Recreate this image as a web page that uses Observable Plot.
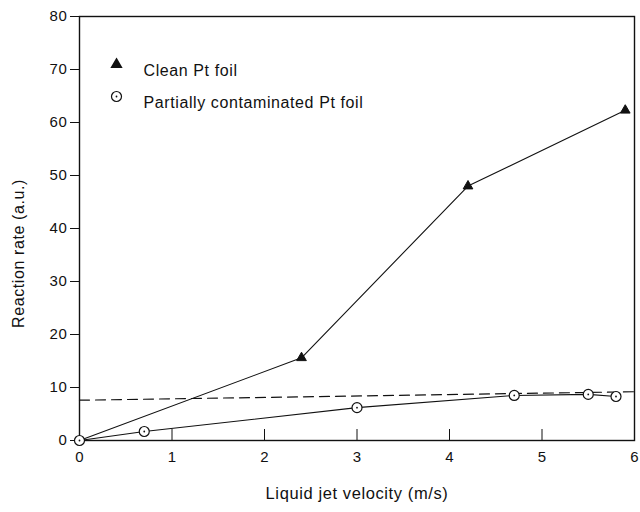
<!DOCTYPE html>
<html>
<head>
<meta charset="utf-8">
<script src="https://cdn.jsdelivr.net/npm/d3@7"></script>
<script src="https://cdn.jsdelivr.net/npm/@observablehq/plot@0.6"></script>
<style>
  html, body { margin: 0; padding: 0; background: #fff; }
  #chart svg { display: block; }
  .wide text { letter-spacing: 0.6px; }
</style>
</head>
<body>
<div id="chart"></div>
<script>
// Clean Pt foil
const cleanX = [0, 2.4, 4.2, 5.9];
const cleanY = [0, 15.6, 48, 62.3];
// Partially contaminated Pt foil
const contX = [0, 0.7, 3, 4.7, 5.5, 5.8];
const contY = [0, 1.7, 6.2, 8.5, 8.7, 8.3];
// Dashed reference line
const dashX = [0, 6];
const dashY = [7.6, 9.2];

const xTicks = [0, 1, 2, 3, 4, 5, 6];
const xInnerTicks = [1, 2, 3, 4, 5];
const yTicks = [0, 10, 20, 30, 40, 50, 60, 70, 80];

const xTitle = "Liquid jet velocity (m/s)";
const yTitle = "Reaction rate (a.u.)";
const legendLabels = ["Clean Pt foil", "Partially contaminated Pt foil"];

const clean = cleanX.map((x, i) => ({x, y: cleanY[i]}));
const cont = contX.map((x, i) => ({x, y: contY[i]}));
const dash = dashX.map((x, i) => ({x, y: dashY[i]}));

const font = "'Liberation Sans', Arial, Helvetica, sans-serif";
const fmt = d3.format("d");

const chart = Plot.plot({
  width: 640,
  height: 512,
  marginLeft: 79,
  marginRight: 6,
  marginTop: 16,
  marginBottom: 72,
  style: {fontFamily: font, fontSize: "15px", color: "#111", background: "#fff"},
  x: {domain: [0, 6]},
  y: {domain: [0, 80]},
  marks: [
    Plot.frame({stroke: "#111", strokeWidth: 1.4}),
    Plot.axisY({ticks: yTicks, tickFormat: fmt, tickSize: 9, tickPadding: 3, label: null, fontSize: 15, stroke: "#111", className: "wide"}),
    Plot.axisX({ticks: xTicks, tickFormat: fmt, tickSize: 0, tickPadding: 11, label: null, fontSize: 15}),
    Plot.axisX({ticks: xInnerTicks, tickSize: 11, dy: -11, text: null, label: null, stroke: "#111"}),
    Plot.text([xTitle], {frameAnchor: "bottom", dy: 58, textAnchor: "middle", fontSize: 16.5, fill: "#111", className: "wide"}),
    Plot.text([yTitle], {frameAnchor: "left", dx: -61, dy: 25, rotate: -90, textAnchor: "middle", fontSize: 16, fill: "#111", className: "wide"}),
    // dashed line
    Plot.line(dash, {x: "x", y: "y", stroke: "#111", strokeWidth: 1.2, strokeDasharray: "10,6"}),
    // series lines
    Plot.line(clean, {x: "x", y: "y", stroke: "#111", strokeWidth: 1.1}),
    Plot.line(cont, {x: "x", y: "y", stroke: "#111", strokeWidth: 1.1}),
    // markers
    Plot.dot(clean.slice(1), {x: "x", y: "y", symbol: "triangle", r: 3.6, fill: "#111", stroke: "#111", strokeWidth: 1}),
    Plot.dot(cont, {x: "x", y: "y", r: 5, fill: "white", stroke: "#111", strokeWidth: 1.2}),
    Plot.dot(cont, {x: "x", y: "y", r: 0.9, fill: "#111"}),
    // legend
    Plot.dot([legendLabels[0]], {frameAnchor: "top-left", dx: 37, dy: 48, symbol: "triangle", r: 3.6, fill: "#111", stroke: "#111"}),
    Plot.text([legendLabels[0]], {frameAnchor: "top-left", dx: 64, dy: 48, textAnchor: "start", fontSize: 16, fill: "#111", className: "wide"}),
    Plot.dot([legendLabels[1]], {frameAnchor: "top-left", dx: 37, dy: 80, r: 5, fill: "white", stroke: "#111", strokeWidth: 1.2}),
    Plot.dot([legendLabels[1]], {frameAnchor: "top-left", dx: 37, dy: 80, r: 0.9, fill: "#111"}),
    Plot.text([legendLabels[1]], {frameAnchor: "top-left", dx: 64, dy: 80, textAnchor: "start", fontSize: 16, fill: "#111", className: "wide"})
  ]
});
document.getElementById("chart").appendChild(chart);
</script>
</body>
</html>
